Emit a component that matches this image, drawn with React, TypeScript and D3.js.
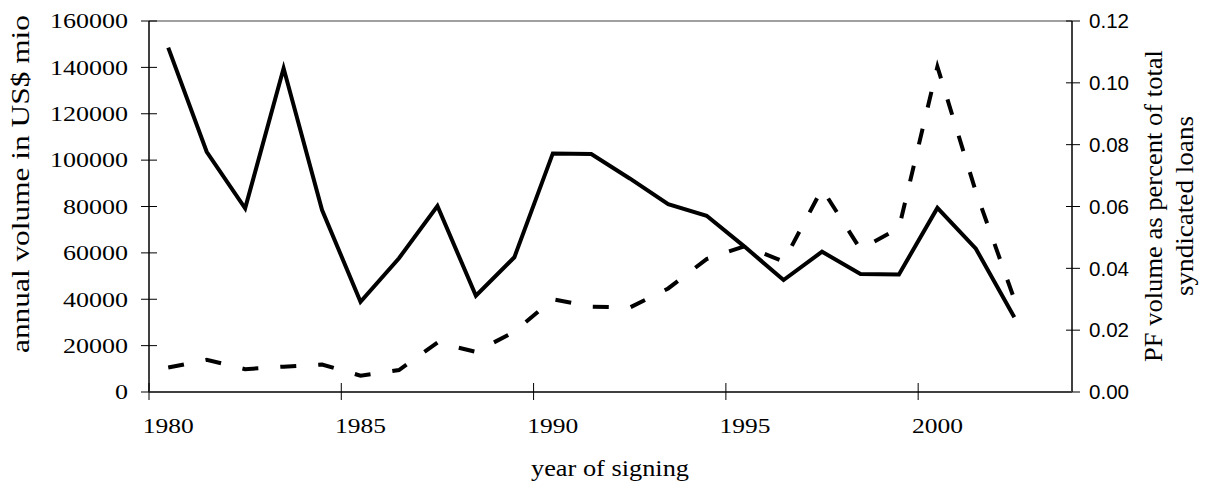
import React from "react";
import * as d3 from "d3";

const years: number[] = d3.range(1980, 2003);
const axisYears: number[] = d3.range(1980, 2004);
const volume: number[] = [148500, 103600, 79200, 139600, 78500, 38900, 57700, 80200, 41500, 58100, 102900, 102600, 92100, 81000, 76000, 62500, 48300, 60500, 50900, 50700, 79400, 61800, 32200];
const share: number[] = [0.0079, 0.0104, 0.0074, 0.0082, 0.0089, 0.0053, 0.0071, 0.016, 0.013, 0.0195, 0.03, 0.0276, 0.0273, 0.0335, 0.043, 0.0472, 0.0422, 0.0657, 0.0462, 0.053, 0.1052, 0.0648, 0.03];
const leftTicks: number[] = [0, 20000, 40000, 60000, 80000, 100000, 120000, 140000, 160000];
const rightTicks: number[] = [0, 0.02, 0.04, 0.06, 0.08, 0.1, 0.12];
const labelYears: number[] = [1980, 1985, 1990, 1995, 2000];

const W = 1210, H = 496;
const L = 149, R = 1072, T = 21, B = 392;

const serif = "Liberation Serif, Times New Roman, Times, serif";
const sans = "Liberation Sans, Arial, Helvetica, sans-serif";

export default function App() {
  const x = d3.scaleBand<number>().domain(axisYears).range([L, R]).paddingInner(0).paddingOuter(0);
  const yL = d3.scaleLinear().domain([0, 160000]).range([B, T]);
  const yR = d3.scaleLinear().domain([0, 0.12]).range([B, T]);
  const cx = (yr: number) => (x(yr) as number) + x.bandwidth() / 2;
  const lineL = d3.line<number>().x((_, i) => cx(years[i])).y((d) => yL(d));
  const lineR = d3.line<number>().x((_, i) => cx(years[i])).y((d) => yR(d));
  return (
    <svg width={W} height={H} style={{ position: "absolute", left: 0, top: 0, background: "#fff" }}>
      <rect x={0} y={0} width={W} height={H} fill="#fff" />
      {/* plot border top */}
      <line x1={L} x2={R} y1={T} y2={T} stroke="#808080" strokeWidth={1.5} />
      {/* left axis */}
      <line x1={L} x2={L} y1={T} y2={B} stroke="#000" strokeWidth={1.5} />
      {leftTicks.map((t) => (
        <g key={"l" + t}>
          <line x1={L - 8} x2={L + 8} y1={yL(t)} y2={yL(t)} stroke="#000" strokeWidth={1} />
          <text x={128} y={yL(t)} dy="0.35em" textAnchor="end" style={{ fontFamily: serif }} fontSize={21}
            textLength={13 * String(t).length} lengthAdjust="spacingAndGlyphs">{String(t)}</text>
        </g>
      ))}
      {/* right axis */}
      <line x1={R} x2={R} y1={T} y2={B} stroke="#000" strokeWidth={1.5} />
      {rightTicks.map((t) => (
        <g key={"r" + t}>
          <line x1={R - 6} x2={R + 8} y1={yR(t)} y2={yR(t)} stroke="#000" strokeWidth={1} />
          <text x={1089} y={yR(t)} dy="0.36em" textAnchor="start" style={{ fontFamily: sans }} fontSize={20}
            textLength={40} lengthAdjust="spacingAndGlyphs">{t.toFixed(2)}</text>
        </g>
      ))}
      {/* bottom axis */}
      <line x1={L} x2={R} y1={B} y2={B} stroke="#404040" strokeWidth={2} />
      {labelYears.map((yr) => (
        <g key={"x" + yr}>
          <line x1={x(yr) as number} x2={x(yr) as number} y1={B - 9} y2={B + 8} stroke="#000" strokeWidth={1} />
          <text x={cx(yr)} y={433} textAnchor="middle" style={{ fontFamily: serif }} fontSize={21}
            textLength={51} lengthAdjust="spacingAndGlyphs">{String(yr)}</text>
        </g>
      ))}
      {/* series */}
      <path d={lineR(share) || ""} fill="none" stroke="#000" strokeWidth={4} strokeDasharray="16,22" strokeLinejoin="miter" />
      <path d={lineL(volume) || ""} fill="none" stroke="#000" strokeWidth={4} strokeLinejoin="miter" />
      {/* titles */}
      <text x={610} y={476} textAnchor="middle" style={{ fontFamily: serif }} fontSize={24}
        textLength={158} lengthAdjust="spacingAndGlyphs">year of signing</text>
      <text transform={`translate(29,184) rotate(-90)`} textAnchor="middle" style={{ fontFamily: serif }} fontSize={25}
        textLength={338} lengthAdjust="spacingAndGlyphs">annual volume in US$ mio</text>
      <text transform={`translate(1162,206) rotate(-90)`} textAnchor="middle" style={{ fontFamily: serif }} fontSize={25}
        textLength={312} lengthAdjust="spacingAndGlyphs">PF volume as percent of total</text>
      <text transform={`translate(1193,206) rotate(-90)`} textAnchor="middle" style={{ fontFamily: serif }} fontSize={25}
        textLength={180} lengthAdjust="spacingAndGlyphs">syndicated loans</text>
    </svg>
  );
}
